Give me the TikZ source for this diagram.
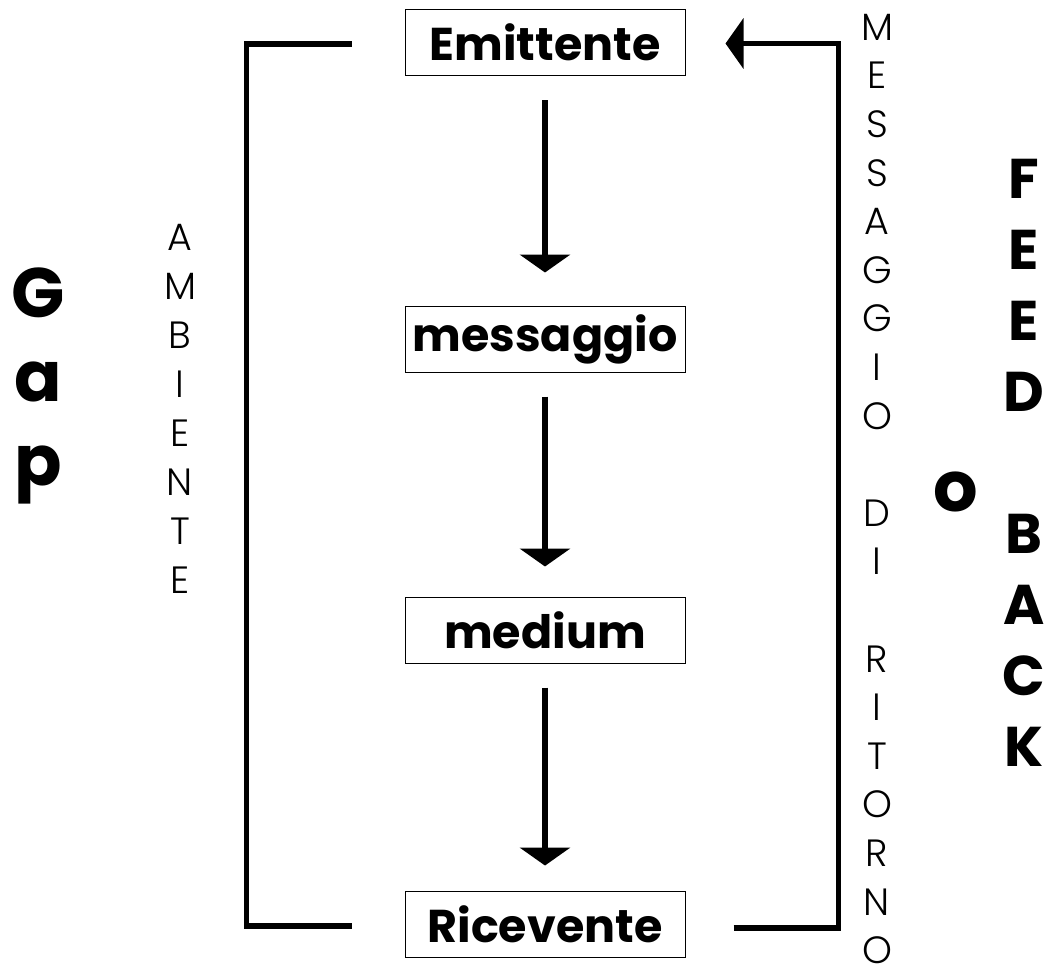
\documentclass[tikz,border=0pt]{standalone}
\usepackage{fontspec}
\setmainfont{Poppins}
\newfontfamily\lightfont{Poppins Light}
\usetikzlibrary{arrows.meta,calc}
\begin{document}
\begin{tikzpicture}[x=1pt,y=-1pt,
  stage/.style={draw, line width=1pt, minimum width=280pt, minimum height=66pt,
    inner sep=0pt, font=\fontsize{46}{46}\selectfont\bfseries},
  flow/.style={line width=5.5pt, -{Triangle[width=50pt,length=18pt]}},
  bracket/.style={line width=5.5pt},
  thinletter/.style={inner sep=0pt, font=\lightfont\fontsize{38}{38}\selectfont},
  bigletter/.style={inner sep=0pt, font=\fontsize{70}{70}\selectfont\bfseries},
  midletter/.style={inner sep=0pt, font=\fontsize{56}{56}\selectfont\bfseries}]
\useasboundingbox (0,0) rectangle (1064,978);

% the four stages of the communication chain
\node[stage] (emit)  at (545,42.5) {Emittente};
\node[stage] (msg)   at (545,339)  {messaggio};
\node[stage] (med)   at (545,630)  {medium};
\node[stage] (recv)  at (545,924)  {Ricevente};

\draw[flow, shorten <=24pt, shorten >=33pt] (emit) -- (msg);
\draw[flow, shorten <=24pt, shorten >=30pt] (msg) -- (med);
\draw[flow, shorten <=24pt, shorten >=25pt] (med) -- (recv);

% environment bracket on the left
\coordinate (ltop) at ($(emit.west)+(-53,1.5)$);
\coordinate (lbot) at ($(recv.west)+(-53,2)$);
\draw[bracket] (ltop) -- ++(-105,0) |- (lbot);

% feedback return path on the right
\coordinate (rbot) at ($(recv.east)+(48,4)$);
\coordinate (rtop) at ($(emit.east)+(40,1)$);
\draw[bracket, -{Triangle[width=50pt,length=18pt]}] (rbot) -- ++(105,0) |- (rtop);

% vertical captions
\foreach \ch/\k in {A/0,M/1,B/2,I/3,E/4,N/5,T/6,E/7}
  \node[thinletter] (amb-\k) at (180,{237+49*\k}) {\ch};

\foreach \ch/\k in {M/0,E/1,S/2,S/3,A/4,G/5,G/6,I/7,O/8,D/10,I/11,R/13,I/14,T/15,O/16,R/17,N/18,O/19}
  \node[thinletter] (ret-\k) at (877,{27+48.6*\k}) {\ch};

\node[bigletter, anchor=base] (gap-0) at (38,317) {G};
\node[bigletter, anchor=base] (gap-1) at (38,401) {a};
\node[bigletter, anchor=base] (gap-2) at (38,485) {p};

\foreach \ch/\k in {F/0,E/1,E/2,D/3,B/5,A/6,C/7,K/8}
  \node[midletter] (fb-\k) at (1024,{179+71*\k}) {\ch};

\node[bigletter] (or) at (956,492) {o};
\end{tikzpicture}
\end{document}
